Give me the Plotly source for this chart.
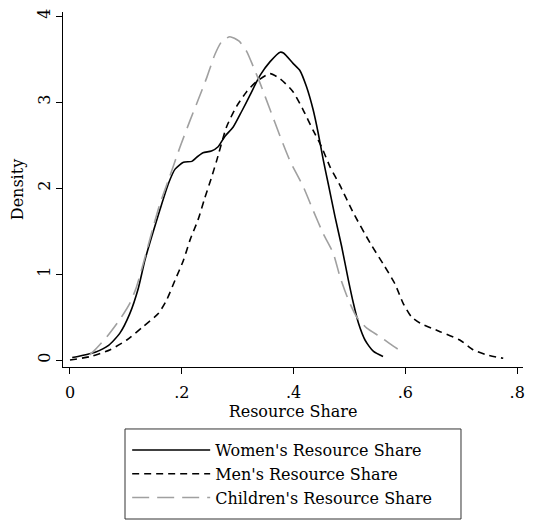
import plotly.graph_objects as go

# Kernel density estimates of resource shares
women_x = [0.004, 0.02, 0.045, 0.069, 0.089, 0.107, 0.122, 0.134, 0.146, 0.161, 0.176,
           0.188, 0.203, 0.218, 0.227, 0.238, 0.253, 0.265, 0.277, 0.292, 0.307, 0.322,
           0.340, 0.358, 0.376, 0.382, 0.399, 0.411, 0.423, 0.435, 0.444, 0.453, 0.462,
           0.474, 0.486, 0.498, 0.507, 0.516, 0.528, 0.543, 0.560]
women_y = [0.03, 0.05, 0.09, 0.17, 0.31, 0.54, 0.83, 1.16, 1.43, 1.75, 2.05,
           2.22, 2.30, 2.31, 2.36, 2.41, 2.43, 2.48, 2.60, 2.71, 2.89, 3.08,
           3.31, 3.47, 3.58, 3.57, 3.45, 3.37, 3.18, 2.91, 2.64, 2.33, 2.05,
           1.67, 1.32, 0.93, 0.66, 0.43, 0.23, 0.10, 0.04]

men_x = [0.0, 0.036, 0.072, 0.101, 0.131, 0.158, 0.173, 0.188, 0.203, 0.215, 0.229,
         0.240, 0.253, 0.262, 0.280, 0.298, 0.316, 0.334, 0.358, 0.376, 0.399, 0.417,
         0.435, 0.450, 0.465, 0.483, 0.507, 0.537, 0.560, 0.581, 0.596, 0.611, 0.626,
         0.662, 0.698, 0.721, 0.745, 0.775]
men_y = [0.0, 0.04, 0.12, 0.23, 0.39, 0.54, 0.70, 0.93, 1.16, 1.40, 1.63,
         1.86, 2.12, 2.31, 2.71, 2.95, 3.12, 3.24, 3.33, 3.27, 3.12, 2.91,
         2.67, 2.48, 2.25, 2.03, 1.71, 1.36, 1.12, 0.89, 0.66, 0.50, 0.43,
         0.33, 0.23, 0.12, 0.06, 0.02]

child_x = [0.035, 0.042, 0.066, 0.089, 0.107, 0.119, 0.131, 0.149, 0.161, 0.176, 0.197,
           0.215, 0.229, 0.245, 0.259, 0.271, 0.286, 0.302, 0.316, 0.328, 0.340, 0.358,
           0.376, 0.394, 0.417, 0.435, 0.453, 0.471, 0.483, 0.498, 0.513, 0.531, 0.555,
           0.572, 0.593]
child_y = [0.06, 0.10, 0.27, 0.47, 0.66, 0.85, 1.12, 1.55, 1.82, 2.09, 2.48,
           2.79, 3.02, 3.29, 3.55, 3.70, 3.76, 3.71, 3.59, 3.41, 3.22, 2.91,
           2.60, 2.31, 2.02, 1.74, 1.47, 1.24, 0.97, 0.70, 0.50, 0.37, 0.27,
           0.19, 0.10]

x_ticks = [0, 0.2, 0.4, 0.6, 0.8]
x_ticklabels = ["0", ".2", ".4", ".6", ".8"]
y_ticks = [0, 1, 2, 3, 4]
y_ticklabels = ["0", "1", "2", "3", "4"]

FONT = "DejaVu Serif"

fig = go.Figure()
fig.add_trace(go.Scatter(x=women_x, y=women_y, mode="lines",
                         name="Women's Resource Share",
                         line=dict(color="black", width=1.6, shape="spline", smoothing=0.6)))
fig.add_trace(go.Scatter(x=men_x, y=men_y, mode="lines",
                         name="Men's Resource Share",
                         line=dict(color="black", width=1.6, dash="7px,5px",
                                   shape="spline", smoothing=0.6)))
fig.add_trace(go.Scatter(x=child_x, y=child_y, mode="lines",
                         name="Children's Resource Share",
                         line=dict(color="#a0a0a0", width=1.6, dash="17px,8px",
                                   shape="spline", smoothing=0.6)))

# legend frame
fig.add_shape(type="rect", xref="paper", yref="paper",
              x0=0.1348, x1=0.8652, y0=-0.4282, y1=-0.1746,
              line=dict(color="#333333", width=1), fillcolor="rgba(0,0,0,0)")

fig.update_layout(
    width=539, height=521,
    margin=dict(l=63, r=16, t=12, b=154, autoexpand=False),
    paper_bgcolor="white", plot_bgcolor="white",
    font=dict(family=FONT, size=16, color="black"),
    showlegend=True,
    legend=dict(x=0.1395, y=-0.186, xanchor="left", yanchor="top",
                bgcolor="rgba(0,0,0,0)", borderwidth=0,
                itemwidth=78, font=dict(family=FONT, size=16, color="black"),
                tracegroupgap=0),
    xaxis=dict(range=[-0.0125, 0.8104], tickvals=x_ticks, ticktext=x_ticklabels,
               showgrid=False, zeroline=False, showline=True, linecolor="black",
               linewidth=1, ticks="outside", ticklen=6, tickcolor="black",
               ticklabelstandoff=5, tickfont=dict(size=16),
               title=dict(text="Resource Share", standoff=2,
                          font=dict(family=FONT, size=16))),
    yaxis=dict(range=[-0.081, 4.047], tickvals=y_ticks, ticktext=y_ticklabels,
               tickangle=-90, tickfont=dict(size=16),
               showgrid=False, zeroline=False, showline=True, linecolor="black",
               linewidth=1, ticks="outside", ticklen=6, tickcolor="black",
               title=dict(text="Density", standoff=6,
                          font=dict(family=FONT, size=16))),
)

fig.write_html("out.html")
